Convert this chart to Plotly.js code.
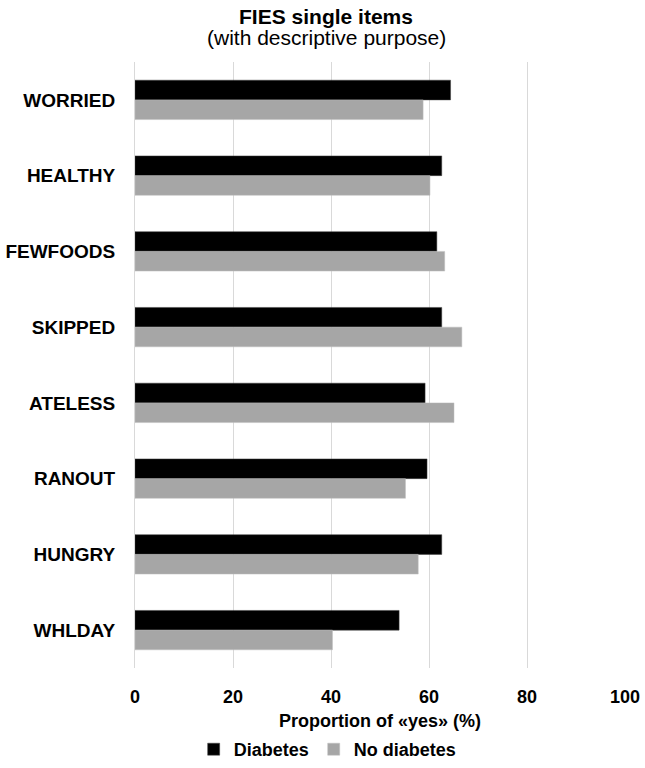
<!DOCTYPE html>
<html>
<head>
<meta charset="utf-8">
<script src="https://cdn.plot.ly/plotly-3.0.1.min.js"></script>
<style>
  body { margin: 0; background: #ffffff; }
  #chart { width: 645px; height: 768px; }
</style>
</head>
<body>
<div id="chart"></div>
<script>
var items = ['WORRIED', 'HEALTHY', 'FEWFOODS', 'SKIPPED', 'ATELESS', 'RANOUT', 'HUNGRY', 'WHLDAY']
var diabetes = [64.4, 62.6, 61.6, 62.6, 59.2, 59.6, 62.6, 53.9]
var no_diabetes = [58.8, 60.2, 63.2, 66.7, 65.1, 55.2, 57.8, 40.3]
var x_ticks = [0, 20, 40, 60, 80, 100]

var trace_diab = {
    type: 'bar',
    orientation: 'h',
    name: 'Diabetes',
    y: items,
    x: diabetes,
    marker: { color: '#000000', line: { color: '#404040', width: 0.5 } }
}
var trace_nodiab = {
    type: 'bar',
    orientation: 'h',
    name: 'No diabetes',
    y: items,
    x: no_diabetes,
    marker: { color: '#a6a6a6', line: { color: '#bfbfbf', width: 0.5 } }
}

var layout = {
    width: 645,
    height: 768,
    paper_bgcolor: '#ffffff',
    plot_bgcolor: '#ffffff',
    font: { family: 'Liberation Sans, Arial, sans-serif', color: '#000000' },
    margin: { l: 135, r: 20, t: 62, b: 100 },
    barmode: 'group',
    bargap: 0.48,
    bargroupgap: 0,
    showlegend: true,
    title: {
        text: '<b>FIES single items</b>',
        font: { size: 21, color: '#000000' },
        x: 0.5054, xref: 'container', xanchor: 'center',
        y: 0.978, yref: 'container', yanchor: 'middle'
    },
    annotations: [{
        text: '(with descriptive purpose)',
        font: { size: 21, color: '#000000' },
        xref: 'paper', x: (326 - 135) / 490, xanchor: 'center',
        yref: 'paper', y: (668 - 38) / 606, yanchor: 'middle',
        showarrow: false
    }],
    xaxis: {
        range: [0, 100],
        tickvals: x_ticks,
        ticktext: x_ticks.map(String),
        showgrid: true,
        gridcolor: '#d9d9d9',
        gridwidth: 1,
        zeroline: false,
        showline: false,
        ticks: 'outside', ticklen: 12, tickcolor: 'rgba(0,0,0,0)',
        tickfont: { size: 18, color: '#000000', weight: 'bold' },
        title: {
            text: '<b>Proportion of «yes» (%)</b>',
            font: { size: 18, color: '#000000' },
            standoff: 12
        },
        fixedrange: true
    },
    yaxis: {
        autorange: 'reversed',
        showgrid: false,
        zeroline: false,
        showline: true,
        linecolor: '#d9d9d9',
        linewidth: 1,
        ticks: 'outside', ticklen: 15, tickcolor: 'rgba(0,0,0,0)',
        tickfont: { size: 19, color: '#000000', weight: 'bold' },
        fixedrange: true
    },
    legend: {
        orientation: 'h',
        x: 0.508, xanchor: 'center', xref: 'container',
        y: 0, yanchor: 'bottom', yref: 'container',
        font: { size: 18, color: '#000000', weight: 'bold' },
        itemwidth: 30,
        traceorder: 'normal'
    }
}

var config = { responsive: false, displayModeBar: false, staticPlot: true }

Plotly.newPlot('chart', [trace_diab, trace_nodiab], layout, config)
</script>
</body>
</html>
